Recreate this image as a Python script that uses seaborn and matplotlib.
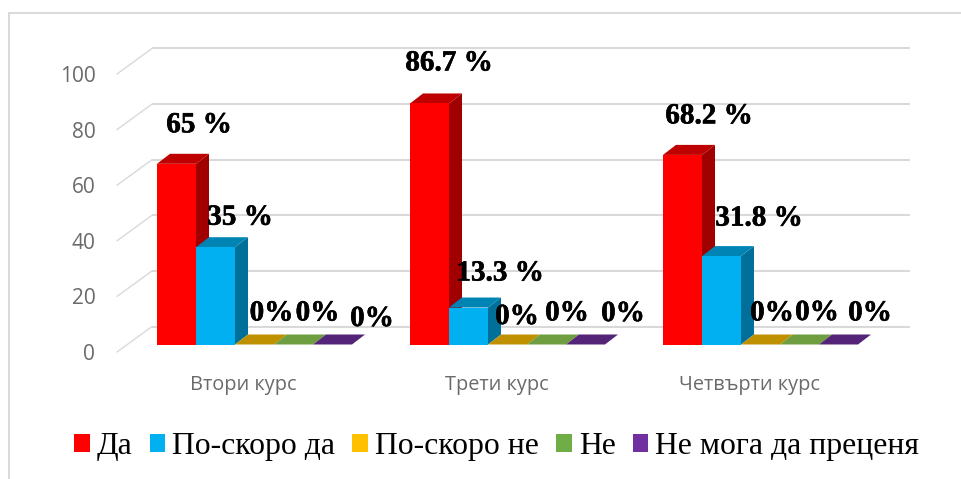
import matplotlib
matplotlib.use("Agg")
import matplotlib.pyplot as plt
from matplotlib.patches import Polygon, Rectangle
from matplotlib.transforms import Affine2D
import matplotlib.patheffects as pe
import pandas as pd
import seaborn as sns

courses = ["Втори курс", "Трети курс", "Четвърти курс"]
answers = ["Да", "По-скоро да", "По-скоро не", "Не", "Не мога да преценя"]
da = [65, 86.7, 68.2]
po_skoro_da = [35, 13.3, 31.8]
po_skoro_ne = [0, 0, 0]
ne = [0, 0, 0]
ne_moga = [0, 0, 0]
label_da = ["65 %", "86.7 %", "68.2 %"]
label_po_skoro_da = ["35 %", "13.3 %", "31.8 %"]
label_po_skoro_ne = ["0%", "0%", "0%"]
label_ne = ["0%", "0%", "0%"]
label_ne_moga = ["0%", "0%", "0%"]
y_ticks = [0, 20, 40, 60, 80, 100]

front_colors = ["#FF0000", "#00B0F0", "#FFC000", "#70AD47", "#7030A0"]
top_colors = ["#BE0000", "#0084B4", "#BF9000", "#6E9E3F", "#542478"]
side_colors = ["#A00000", "#00709A", "#A07800", "#5A8A30", "#4A2070"]

# label offsets from each bar's top centre, in pixels (answer -> course)
label_offsets = [
    [(22.5, 39), (19.5, 40.5), (26.5, 39)],
    [(24.5, 30), (31.5, 34.5), (37.5, 38)],
    [(17, 31.5), (9.5, 28), (11.5, 31.5)],
    [(24, 31.5), (20.5, 31.5), (17.5, 32)],
    [(39.5, 26), (37.5, 31), (31.5, 31.5)],
]

W, H = 962, 479
PX_X = 1 / 253      # category units per pixel
PX_Y = 100 / 278    # value units per pixel

sns.set_theme(style="white")
plt.rcParams["font.family"] = ["Liberation Serif", "DejaVu Sans"]

fig = plt.figure(figsize=(W / 100, H / 100), dpi=100, facecolor="white")
ax = fig.add_axes([128 / W, (H - 344.5) / H, 759 / W, 278 / H])
ax.patch.set_visible(False)

series = [da, po_skoro_da, po_skoro_ne, ne, ne_moga]
labels = [label_da, label_po_skoro_da, label_po_skoro_ne, label_ne, label_ne_moga]
df = pd.DataFrame(
    [{"course": c, "answer": a, "value": vals[i]}
     for a, vals in zip(answers, series) for i, c in enumerate(courses)]
)
sns.barplot(data=df, x="course", y="value", hue="answer", order=courses, hue_order=answers,
            palette=front_colors, saturation=1, width=195 / 253, gap=0, errorbar=None,
            ax=ax, legend=True, linewidth=0, zorder=3)

ax.set_xlim(-0.5, 2.5)
ax.set_ylim(0, 100)
ax.set_xlabel("")
ax.set_ylabel("")
sns.despine(ax=ax, left=True, bottom=True, right=True, top=True)

# walls: back wall and left wall gridlines
grid = "#D9D9D9"
x_front = -0.5 - 11 * PX_X
x_back = -0.5 + 24 * PX_X
x_end = 2.5 + 23 * PX_X
dy_front = -7.5 * PX_Y
dy_back = 18 * PX_Y
for v in y_ticks:
    ax.plot([x_back, x_end], [v + dy_back] * 2, color=grid, lw=1.5, clip_on=False, zorder=1,
            solid_capstyle="butt")
    ax.plot([x_front, x_back], [v + dy_front, v + dy_back], color=grid, lw=1.0, clip_on=False,
            zorder=1)

# 3D faces derived from the bars
DX = 13 * PX_X
DY = 10 * PX_Y
for i, cont in enumerate(ax.containers):
    for j, bar in enumerate(cont):
        x0, w, h = bar.get_x(), bar.get_width(), bar.get_height()
        z = 3 + i
        bar.set_zorder(z + 0.2)
        bar.set_linewidth(0)
        ax.add_patch(Polygon([(x0 + w, 0), (x0 + w + DX, DY), (x0 + w + DX, h + DY), (x0 + w, h)],
                             closed=True, fc=side_colors[i], ec="none", clip_on=False, zorder=z))
        ax.add_patch(Polygon([(x0, h), (x0 + w, h), (x0 + w + DX, h + DY), (x0 + DX, h + DY)],
                             closed=True, fc=top_colors[i], ec="none", clip_on=False, zorder=z + 0.1))
        dx, dy = label_offsets[i][j]
        ax.annotate(labels[i][j], xy=(x0 + w / 2, h), xytext=(dx, dy), textcoords="offset pixels",
                    ha="center", va="center", fontsize=21, fontweight="bold", color="black",
                    family=["Liberation Serif", "DejaVu Sans"], annotation_clip=False, zorder=20,
                    path_effects=[pe.withStroke(linewidth=0.4, foreground="black")])

# ticks
ax.set_yticks(y_ticks)
ax.set_yticklabels([str(v) for v in y_ticks])
ax.tick_params(axis="y", length=0, pad=23.5, labelsize=15, labelcolor="#6A6A6A")
ax.tick_params(axis="x", length=0, pad=22, labelsize=14.3, labelcolor="#6A6A6A")
shift_y = Affine2D().translate(0, -7.5)
for lab in ax.get_yticklabels():
    lab.set_fontfamily("Open Sans")
    lab.set_transform(lab.get_transform() + shift_y)
shift_x = Affine2D().translate(-11, 0)
for lab in ax.get_xticklabels():
    lab.set_fontfamily("Open Sans")
    lab.set_transform(lab.get_transform() + shift_x)

# legend
handles, leg_labels = ax.get_legend_handles_labels()
ax.get_legend().remove()
leg = fig.legend(handles, leg_labels, loc="center left", bbox_to_anchor=(74 / W, (H - 446.5) / H),
                 ncol=5, frameon=False, fontsize=22.9, handlelength=0.5, handleheight=0.5,
                 handletextpad=0.22, columnspacing=0.53, borderpad=0, borderaxespad=0,
                 labelcolor="black")

# outer frame: its right and bottom sides fall outside the picture
fig.add_artist(Rectangle((8.5 / W, -0.02), 1.02, (H - 13) / H + 0.02,
                         transform=fig.transFigure, fc="none", ec="#D9D9D9", lw=1.4))

fig.savefig("out.png", dpi=100)
